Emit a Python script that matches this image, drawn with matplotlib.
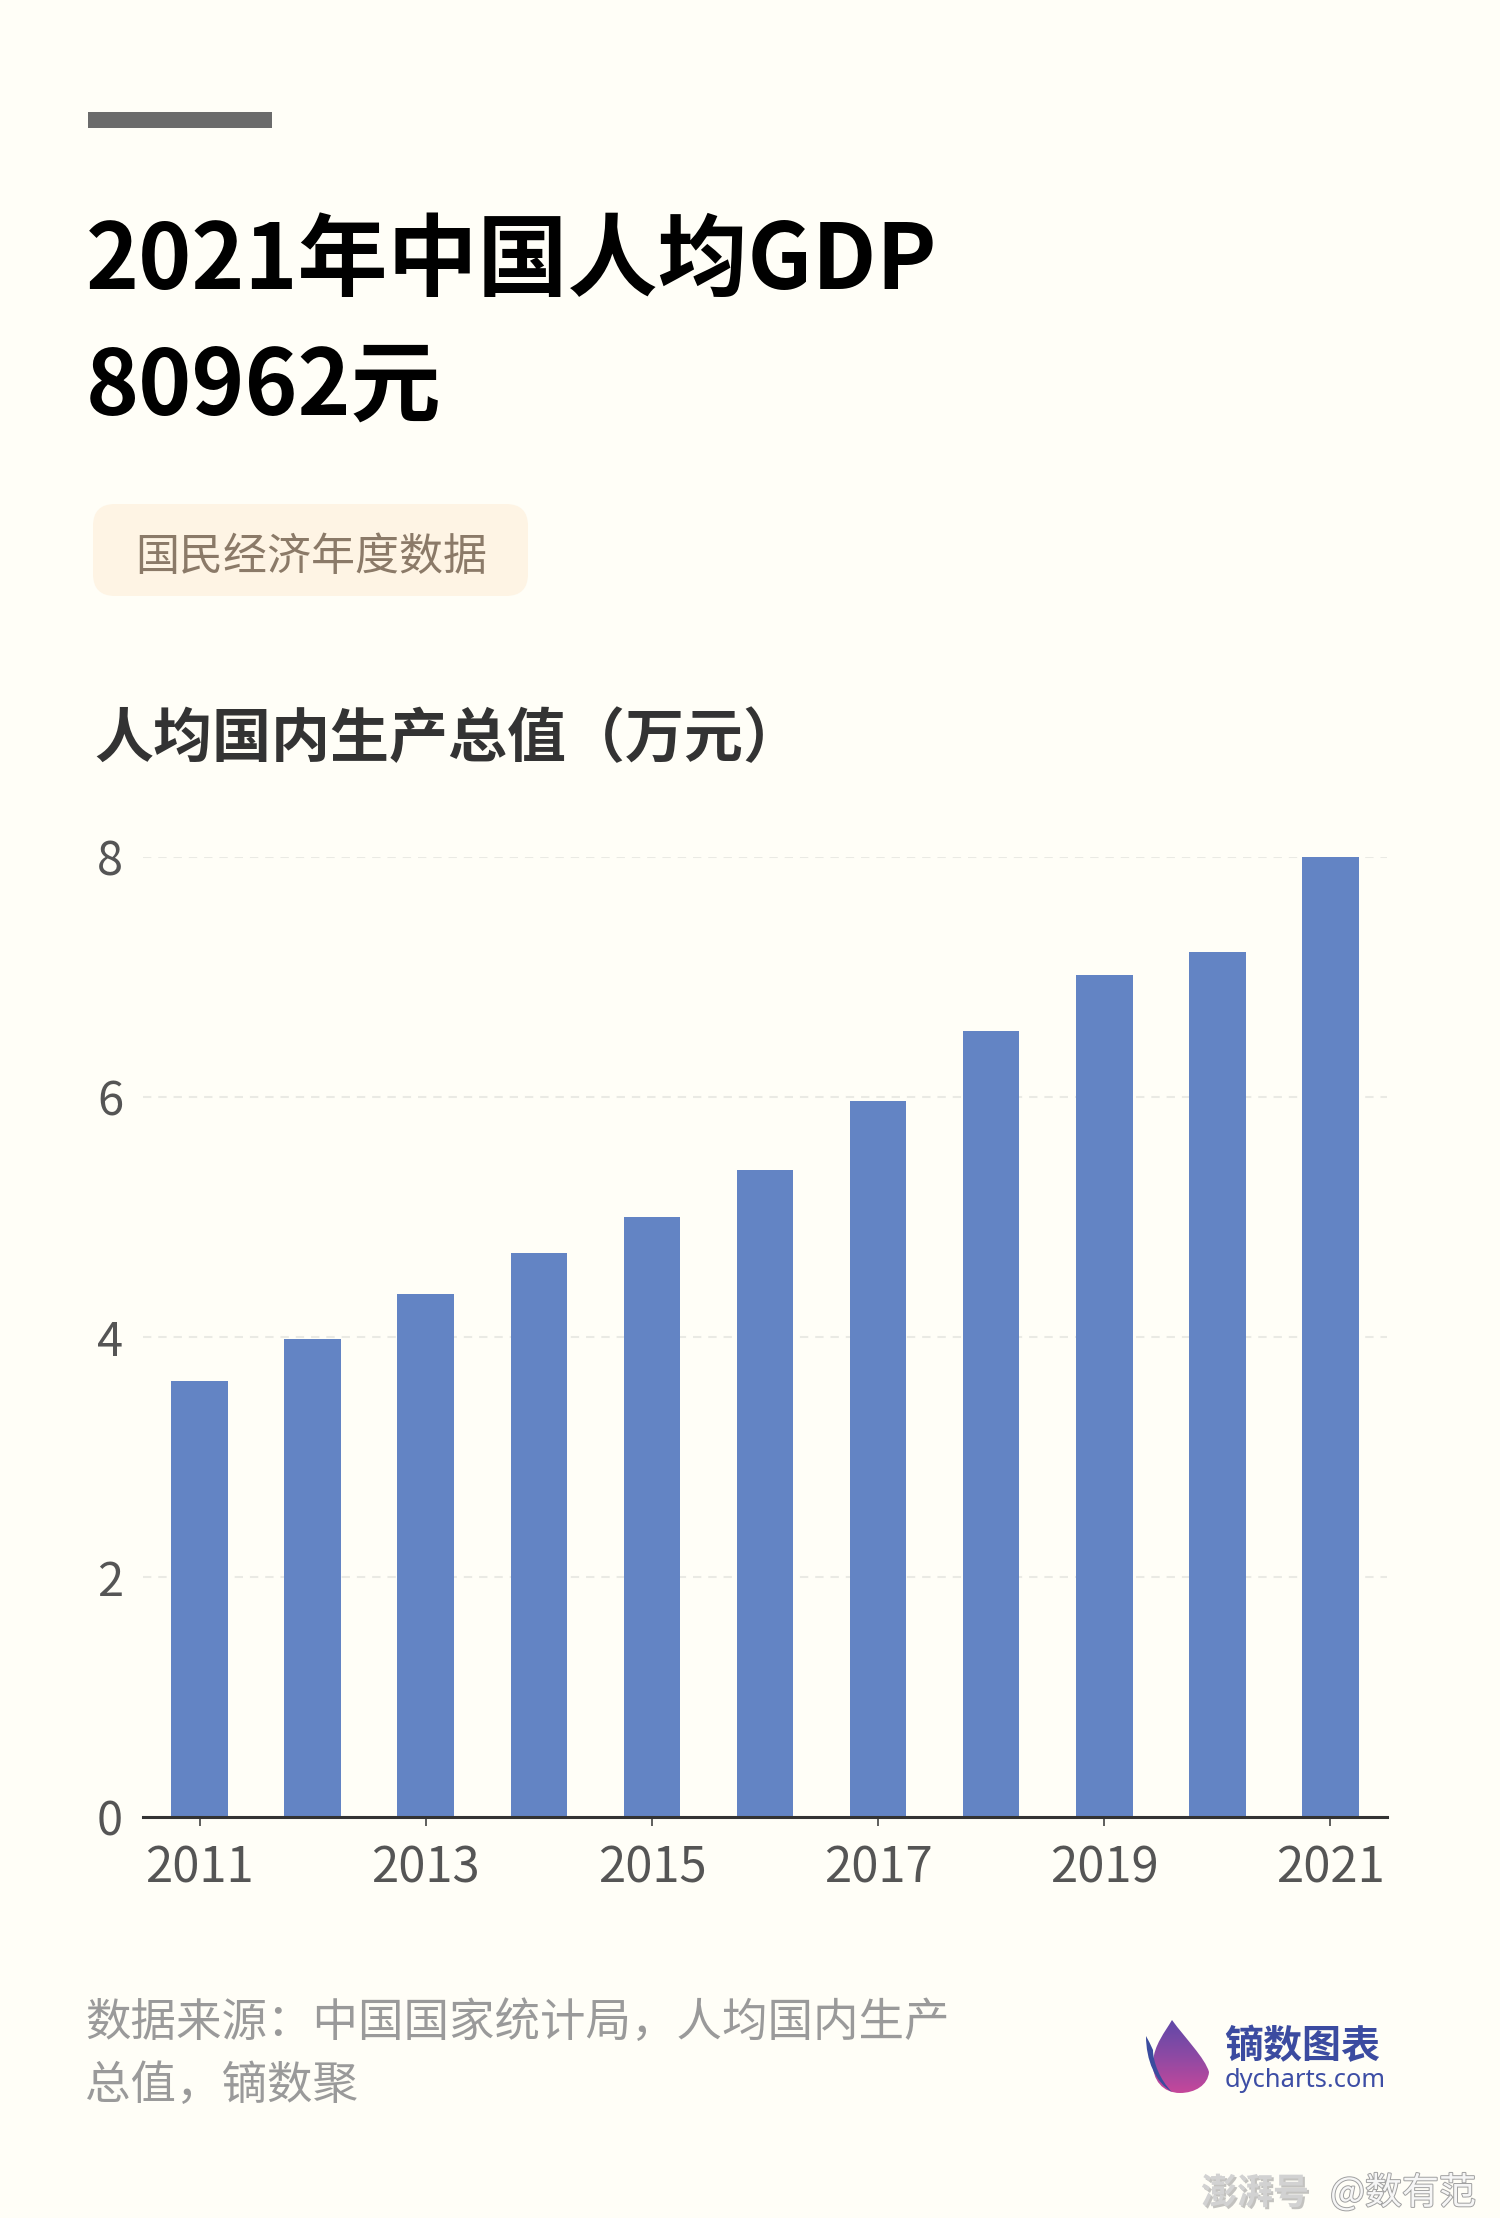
import numpy as np
import matplotlib
matplotlib.use("Agg")
import matplotlib.pyplot as plt
from matplotlib.patches import FancyBboxPatch, Rectangle, PathPatch
from matplotlib.path import Path
from matplotlib.colors import LinearSegmentedColormap
import matplotlib.patheffects as pe

# ---- data -------------------------------------------------------------
years = ["2011", "2012", "2013", "2014", "2015", "2016",
         "2017", "2018", "2019", "2020", "2021"]
gdp_per_capita = [3.63, 3.98, 4.36, 4.70, 5.00, 5.39,
                  5.97, 6.55, 7.02, 7.21, 8.0962]   # 万元
y_ticks = [0, 2, 4, 6, 8]
x_tick_years = ["2011", "2013", "2015", "2017", "2019", "2021"]

title_line1 = "2021年中国人均GDP"
title_line2 = "80962元"
tag_text = "国民经济年度数据"
chart_title = "人均国内生产总值（万元）"
source_lines = ["数据来源：中国国家统计局，人均国内生产", "总值，镝数聚"]

# ---- style ------------------------------------------------------------
FONT = ["Noto Sans CJK SC", "DejaVu Sans"]
plt.rcParams["font.family"] = FONT
plt.rcParams["lines.scale_dashes"] = False

BG = "#FFFEF7"
BAR = "#6384C4"

W, H = 1500, 2218
DPI = 100
fig = plt.figure(figsize=(W / DPI, H / DPI), dpi=DPI, facecolor=BG)

# full-figure overlay in pixel units (y grows downward)
ov = fig.add_axes([0, 0, 1, 1], zorder=0)
ov.set_xlim(0, W)
ov.set_ylim(H, 0)
ov.axis("off")
ov.set_facecolor(BG)

def px(v):
    return v * 0.72  # pixels -> points at 100 dpi

# top accent bar
ov.add_patch(Rectangle((88, 112), 184, 16, color="#6B6B6B", lw=0))

# headline
ov.text(86, 289, title_line1, fontsize=px(90), fontweight="bold",
        color="#000000", va="baseline", ha="left")
ov.text(86, 415, title_line2, fontsize=px(90), fontweight="bold",
        color="#000000", va="baseline", ha="left")

# tag pill
ov.add_patch(FancyBboxPatch((93 + 22, 504 + 22), 435 - 44, 92 - 44,
                            boxstyle="round,pad=22",
                            fc="#FEF4E4", ec="none"))
ov.text(135, 570, tag_text, fontsize=px(44), color="#8B7A68",
        va="baseline", ha="left")

# chart heading
ov.text(94, 757, chart_title, fontsize=px(59), fontweight="bold",
        color="#333333", va="baseline", ha="left")

# source note
ov.text(85, 2036, source_lines[0], fontsize=px(45.5), color="#9A9A9A",
        va="baseline", ha="left")
ov.text(85, 2099, source_lines[1], fontsize=px(45.5), color="#9A9A9A",
        va="baseline", ha="left")

# dycharts logo mark: gradient petal plus a darker side leaf
petal = Path(
    [(1172, 2020), (1185, 2038), (1205, 2058), (1209, 2072),
     (1208, 2085), (1195, 2093), (1180, 2093),
     (1163, 2093), (1152, 2080), (1153, 2062),
     (1154, 2045), (1165, 2032), (1172, 2020)],
    [Path.MOVETO] + [Path.CURVE4] * 12)
leaf = Path(
    [(1146, 2036), (1146, 2060), (1155, 2082), (1172, 2092),
     (1160, 2080), (1153, 2062), (1153, 2050),
     (1151, 2045), (1148, 2040), (1146, 2036)],
    [Path.MOVETO] + [Path.CURVE4] * 9)
grad = np.linspace(0, 1, 100).reshape(-1, 1)
cmap = LinearSegmentedColormap.from_list("petal", ["#5A48A8", "#8C4AA4", "#C8479A"])
im = ov.imshow(grad, cmap=cmap, aspect="auto",
               extent=(1140, 1215, 2095, 2015), zorder=2)
pp = PathPatch(petal, transform=ov.transData, fc="none", ec="none")
ov.add_patch(pp)
im.set_clip_path(pp)
ov.add_patch(PathPatch(leaf, fc="#3A4C9E", ec="none", zorder=3))
ov.text(1224, 2058, "镝数图表", fontsize=px(39), fontweight="bold",
        color="#3B4BA0", va="baseline", ha="left")
ov.text(1225, 2087, "dycharts.com", fontsize=px(25.5), color="#3D4EA5",
        va="baseline", ha="left", family=["Noto Sans", "DejaVu Sans"])

# watermark
ov.text(1201, 2204, "澎湃号", fontsize=px(36), fontweight="bold",
        color="#D2D2D2", va="baseline", ha="left",
        path_effects=[pe.SimplePatchShadow(offset=(1.5, -1.5),
                                           shadow_rgbFace="#888888",
                                           alpha=0.5), pe.Normal()])
ov.text(1330, 2204, "@数有范", fontsize=px(37), color="#F6F6F6",
        va="baseline", ha="left",
        path_effects=[pe.withStroke(linewidth=1.4, foreground="#A0A0A0")])

# ---- bar chart --------------------------------------------------------
ax_l, ax_r, ax_b, ax_t = 143, 1387, 1817, 857
ax = fig.add_axes([ax_l / W, (H - ax_b) / H, (ax_r - ax_l) / W, (ax_b - ax_t) / H],
                  zorder=1)
ax.set_facecolor("none")
x = np.arange(len(years))
ax.bar(x, gdp_per_capita, width=0.5, color=BAR, zorder=3)
ax.set_xlim(-0.5, len(years) - 0.5)
ax.set_ylim(0, 8)

ax.set_yticks(y_ticks)
ax.set_yticklabels([str(t) for t in y_ticks])
ax.set_xticks([years.index(y) for y in x_tick_years])
ax.set_xticklabels(x_tick_years)

for s in ("left", "right", "top"):
    ax.spines[s].set_visible(False)
ax.spines["bottom"].set_linewidth(2.2)
ax.spines["bottom"].set_color("#333333")
ax.spines["bottom"].set_zorder(4)

ax.yaxis.grid(True, color="#EAEAE4", linewidth=1.5, dashes=(6, 5), zorder=0)
ax.xaxis.grid(False)
ax.set_axisbelow(True)

ax.tick_params(axis="y", length=0, pad=px(20), labelsize=px(47),
               labelcolor="#555555")
ax.tick_params(axis="x", length=px(9), width=1.1, color="#333333",
               pad=px(18), labelsize=px(49), labelcolor="#555555")

fig.savefig("out.png", dpi=DPI, facecolor=BG)
